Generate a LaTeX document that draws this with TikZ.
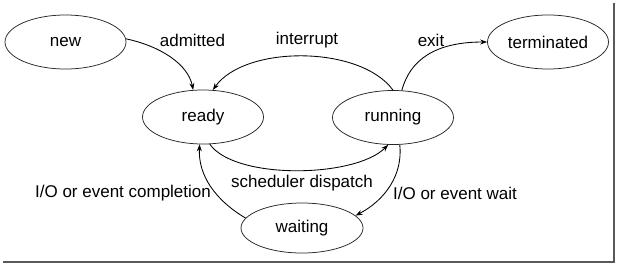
\documentclass[tikz,border=0pt]{standalone}
\usepackage{fontspec}
\setmainfont{Liberation Sans}
\usetikzlibrary{shapes.geometric,arrows.meta}
\begin{document}
\begin{tikzpicture}[x=1pt,y=-1pt,
  state/.style={draw=black!85,ellipse,line width=0.75pt,inner sep=0pt,
    minimum width=121pt,minimum height=54pt,font=\fontsize{17}{20}\selectfont},
  lbl/.style={font=\fontsize{17}{20}\selectfont,inner sep=0pt},
  trans/.style={line width=0.85pt,-{Stealth[length=7pt,width=5pt]}},
  shadow/.style={line width=2.6pt,black!65}]
\useasboundingbox (0,0) rectangle (617,265);
\draw[shadow] (3,262) -- (614,262) -- (614,3);
\node[state] (new) at (65.5,42) {new};
\node[state] (ready) at (203,117) {ready};
\node[state] (running) at (393,117.5) {running};
\node[state] (terminated) at (548,42) {terminated};
\node[state,minimum width=122pt,minimum height=50pt] (waiting) at (302,228) {waiting};
\node[lbl] (ladm) at (192.5,40) {admitted};
\node[lbl] (lint) at (307,40) {interrupt};
\node[lbl] (lexit) at (431,40) {exit};
\node[lbl] (lsch) at (302,183) {scheduler dispatch};
\node[lbl] (lcomp) at (123,193) {I/O or event completion};
\node[lbl] (lwait) at (455,193) {I/O or event wait};
\draw[trans] (new.3) .. controls (160,46) and (188,64) .. (ready.110);
\draw[trans] (running.90) .. controls (360,45) and (245,45) .. (ready.70);
\draw[trans] (running.72) .. controls (410,60) and (435,42) .. (terminated.west);
\draw[trans] (ready.-76) .. controls (235,180) and (355,178) .. (running.-100);
\draw[trans] (running.-76) .. controls (403,175) and (385,200) .. (waiting.13);
\draw[trans] (waiting.170) .. controls (215,200) and (198,175) .. (ready.-97);
\end{tikzpicture}
\end{document}
